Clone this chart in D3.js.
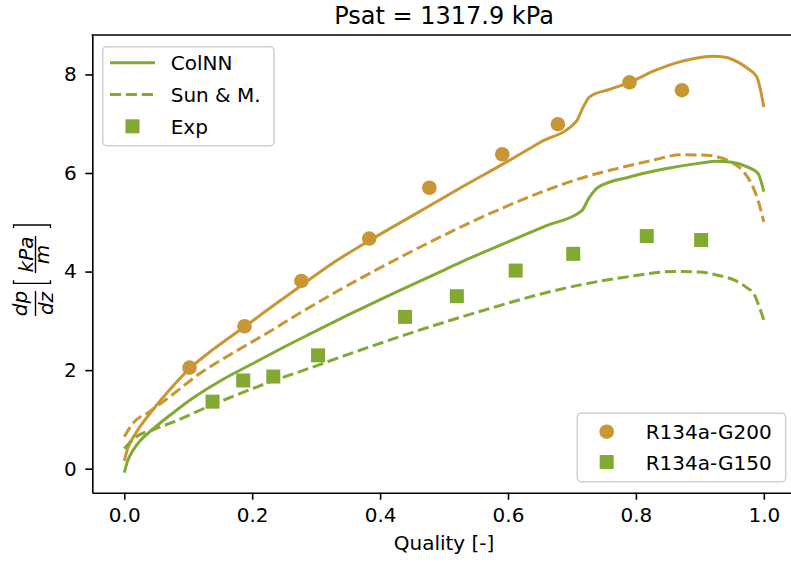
<!DOCTYPE html>
<html><head><meta charset="utf-8">
<script src="https://cdn.jsdelivr.net/npm/d3@7"></script>
<style>body{margin:0;background:#fff}svg{display:block}text{font-family:"DejaVu Sans",sans-serif;fill:#000}</style>
</head><body><svg id="c" width="791" height="563"></svg>
<script>
const titleText = "Psat = 1317.9 kPa";
const xLabel = "Quality [-]";
const xTicks = [0, 0.2, 0.4, 0.6, 0.8, 1.0];
const yTicks = [0, 2, 4, 6, 8];
const orange = "#C89632", green = "#82AA32";

// ColNN, R134a-G200
const colG200X = [0, 0.005, 0.017, 0.03, 0.045, 0.071, 0.102, 0.139, 0.188, 0.23, 0.277, 0.32, 0.369, 0.45, 0.53, 0.6, 0.65, 0.707, 0.718, 0.728, 0.76, 0.79, 0.83, 0.864, 0.89, 0.92, 0.94, 0.958, 0.975, 0.989, 1.0];
const colG200Y = [0.16, 0.4, 0.7, 0.95, 1.2, 1.6, 2.03, 2.42, 2.88, 3.28, 3.72, 4.12, 4.52, 5.13, 5.73, 6.24, 6.62, 7.05, 7.35, 7.55, 7.7, 7.84, 8.08, 8.24, 8.32, 8.37, 8.35, 8.26, 8.12, 7.95, 7.34];
// Sun & M., R134a-G200
const sunG200X = [0, 0.014, 0.04, 0.071, 0.118, 0.165, 0.223, 0.276, 0.369, 0.436, 0.5, 0.588, 0.65, 0.723, 0.78, 0.827, 0.87, 0.91, 0.952, 0.97, 0.983, 0.992, 1.0];
const sunG200Y = [0.65, 0.93, 1.16, 1.46, 1.93, 2.31, 2.75, 3.17, 3.86, 4.32, 4.74, 5.27, 5.6, 5.93, 6.12, 6.26, 6.37, 6.36, 6.2, 6.0, 5.72, 5.4, 5.01];
// ColNN, R134a-G150
const colG150X = [0, 0.005, 0.014, 0.025, 0.04, 0.071, 0.108, 0.15, 0.202, 0.25, 0.296, 0.35, 0.431, 0.5, 0.535, 0.6, 0.66, 0.715, 0.727, 0.741, 0.79, 0.848, 0.9, 0.926, 0.95, 0.973, 0.991, 1.0];
const colG150Y = [-0.08, 0.15, 0.38, 0.57, 0.75, 1.08, 1.44, 1.78, 2.14, 2.47, 2.77, 3.12, 3.62, 4.03, 4.24, 4.6, 4.93, 5.23, 5.5, 5.71, 5.92, 6.09, 6.2, 6.24, 6.22, 6.13, 5.99, 5.62];
// Sun & M., R134a-G150
const sunG150X = [0, 0.019, 0.045, 0.077, 0.124, 0.176, 0.228, 0.29, 0.35, 0.431, 0.5, 0.587, 0.65, 0.713, 0.78, 0.859, 0.9, 0.926, 0.955, 0.975, 0.984, 0.991, 1.0];
const sunG150Y = [0.41, 0.65, 0.79, 0.95, 1.22, 1.5, 1.76, 2.04, 2.32, 2.68, 2.97, 3.31, 3.54, 3.73, 3.88, 4.0, 3.99, 3.93, 3.82, 3.66, 3.56, 3.35, 3.02];
// Experimental
const expG200X = [0.102, 0.188, 0.277, 0.383, 0.477, 0.591, 0.678, 0.79, 0.872];
const expG200Y = [2.05, 2.89, 3.81, 4.67, 5.70, 6.38, 6.99, 7.84, 7.68];
const expG150X = [0.138, 0.186, 0.233, 0.303, 0.439, 0.52, 0.612, 0.702, 0.817, 0.902];
const expG150Y = [1.36, 1.79, 1.87, 2.30, 3.08, 3.50, 4.02, 4.36, 4.72, 4.64];

const svg = d3.select("#c");
const L = 92.3, R = 795.8, T = 35, B = 492.7;
const x = d3.scaleLinear().domain([-0.05, 1.05]).range([L, R]);
const y = d3.scaleLinear().domain([-0.487, 8.80]).range([B, T]);

const line = d3.line().x(d => x(d[0])).y(d => y(d[1])).curve(d3.curveMonotoneX);
const zip = (a, b) => a.map((v, i) => [v, b[i]]);

const plot = svg.append("g");
function drawLine(xs, ys, col, dashed) {
  plot.append("path").datum(zip(xs, ys)).attr("d", line)
    .attr("fill", "none").attr("stroke", col).attr("stroke-width", 3)
    .attr("stroke-dasharray", dashed ? "11.1,4.8" : null);
}
drawLine(colG200X, colG200Y, orange, false);
drawLine(sunG200X, sunG200Y, orange, true);
drawLine(colG150X, colG150Y, green, false);
drawLine(sunG150X, sunG150Y, green, true);

plot.selectAll("circle.e").data(zip(expG200X, expG200Y)).join("circle")
  .attr("cx", d => x(d[0])).attr("cy", d => y(d[1])).attr("r", 7.3).attr("fill", orange);
const s = 14;
plot.selectAll("rect.e").data(zip(expG150X, expG150Y)).join("rect")
  .attr("x", d => x(d[0]) - s/2).attr("y", d => y(d[1]) - s/2)
  .attr("width", s).attr("height", s).attr("fill", green);

// axes
const fmt = d3.format(".1f");
const ax = svg.append("g").attr("transform", `translate(0,${B})`)
  .call(d3.axisBottom(x).tickValues(xTicks).tickFormat(fmt).tickSize(7).tickSizeOuter(0).tickPadding(8));
const ay = svg.append("g").attr("transform", `translate(${L},0)`)
  .call(d3.axisLeft(y).tickValues(yTicks).tickFormat(d3.format("d")).tickSize(7).tickSizeOuter(0).tickPadding(8.5));
[ax, ay].forEach(a => {
  a.selectAll("text").attr("font-size", 20).attr("font-family", "DejaVu Sans").attr("fill", "#000");
  a.selectAll("line").attr("stroke", "#000").attr("stroke-width", 1.6);
  a.select(".domain").attr("stroke", "#000").attr("stroke-width", 1.6);
});
svg.append("line").attr("x1", L).attr("x2", R).attr("y1", T).attr("y2", T)
  .attr("stroke", "#000").attr("stroke-width", 1.6).attr("stroke-linecap", "square");

// title & labels
svg.append("text").attr("x", (L + R) / 2).attr("y", 24).attr("text-anchor", "middle")
  .attr("font-size", 24).text(titleText);
svg.append("text").attr("x", (L + R) / 2).attr("y", 550).attr("text-anchor", "middle")
  .attr("font-size", 20).text(xLabel);

// y label: dp/dz [kPa/m]
const yl = svg.append("g").attr("transform", "translate(35.5,271) rotate(-90)");
const it = (t, lx, ly) => yl.append("text").attr("x", lx).attr("y", ly).attr("text-anchor", "middle")
  .attr("font-size", 20).attr("font-style", "italic").text(t);
it("dp", -32.5, -8.5);
it("dz", -32.5, 17.5);
yl.append("line").attr("x1", -45).attr("x2", -20).attr("y1", 0).attr("y2", 0).attr("stroke", "#000").attr("stroke-width", 1.4);
it("kPa", 16.5, -3);
it("m", 16.5, 13.5);
yl.append("line").attr("x1", -2).attr("x2", 35).attr("y1", 0).attr("y2", 0).attr("stroke", "#000").attr("stroke-width", 1.4);
yl.append("path").attr("d", "M-9.3,-22 H-12.3 V15 H-9.3").attr("fill", "none").attr("stroke", "#000").attr("stroke-width", 1.3);
yl.append("path").attr("d", "M43,-22 H46 V15 H43").attr("fill", "none").attr("stroke", "#000").attr("stroke-width", 1.3);

// legends
function frame(x0, y0, x1, y1) {
  svg.append("rect").attr("x", x0).attr("y", y0).attr("width", x1 - x0).attr("height", y1 - y0)
    .attr("rx", 4).attr("fill", "#fff").attr("fill-opacity", 0.8).attr("stroke", "#d0d0d0").attr("stroke-width", 1.6);
}
frame(102.7, 46.7, 274, 145.7);
const leg1 = [["ColNN", "solid"], ["Sun & M.", "dash"], ["Exp", "sq"]];
const ly1 = [62.7, 94.5, 126.3];
leg1.forEach((d, i) => {
  const yy = ly1[i];
  if (d[1] === "sq") {
    svg.append("rect").attr("x", 132.5 - s/2).attr("y", yy - s/2).attr("width", s).attr("height", s).attr("fill", green);
  } else {
    svg.append("line").attr("x1", 110).attr("x2", 155).attr("y1", yy).attr("y2", yy)
      .attr("stroke", green).attr("stroke-width", 3).attr("stroke-dasharray", d[1] === "dash" ? "11.1,4.8" : null);
  }
  svg.append("text").attr("x", 170.7).attr("y", yy + 7.5).attr("font-size", 20).text(d[0]);
});
frame(577.3, 413.3, 785.7, 481.7);
const leg2 = [["R134a-G200", orange, "c"], ["R134a-G150", green, "s"]];
const ly2 = [431.7, 462];
leg2.forEach((d, i) => {
  const yy = ly2[i];
  if (d[2] === "c") svg.append("circle").attr("cx", 606.7).attr("cy", yy).attr("r", 7.3).attr("fill", d[1]);
  else svg.append("rect").attr("x", 606.7 - s/2).attr("y", yy - s/2).attr("width", s).attr("height", s).attr("fill", d[1]);
  svg.append("text").attr("x", 645.7).attr("y", yy + 7.5).attr("font-size", 20).text(d[0]);
});
</script></body></html>
